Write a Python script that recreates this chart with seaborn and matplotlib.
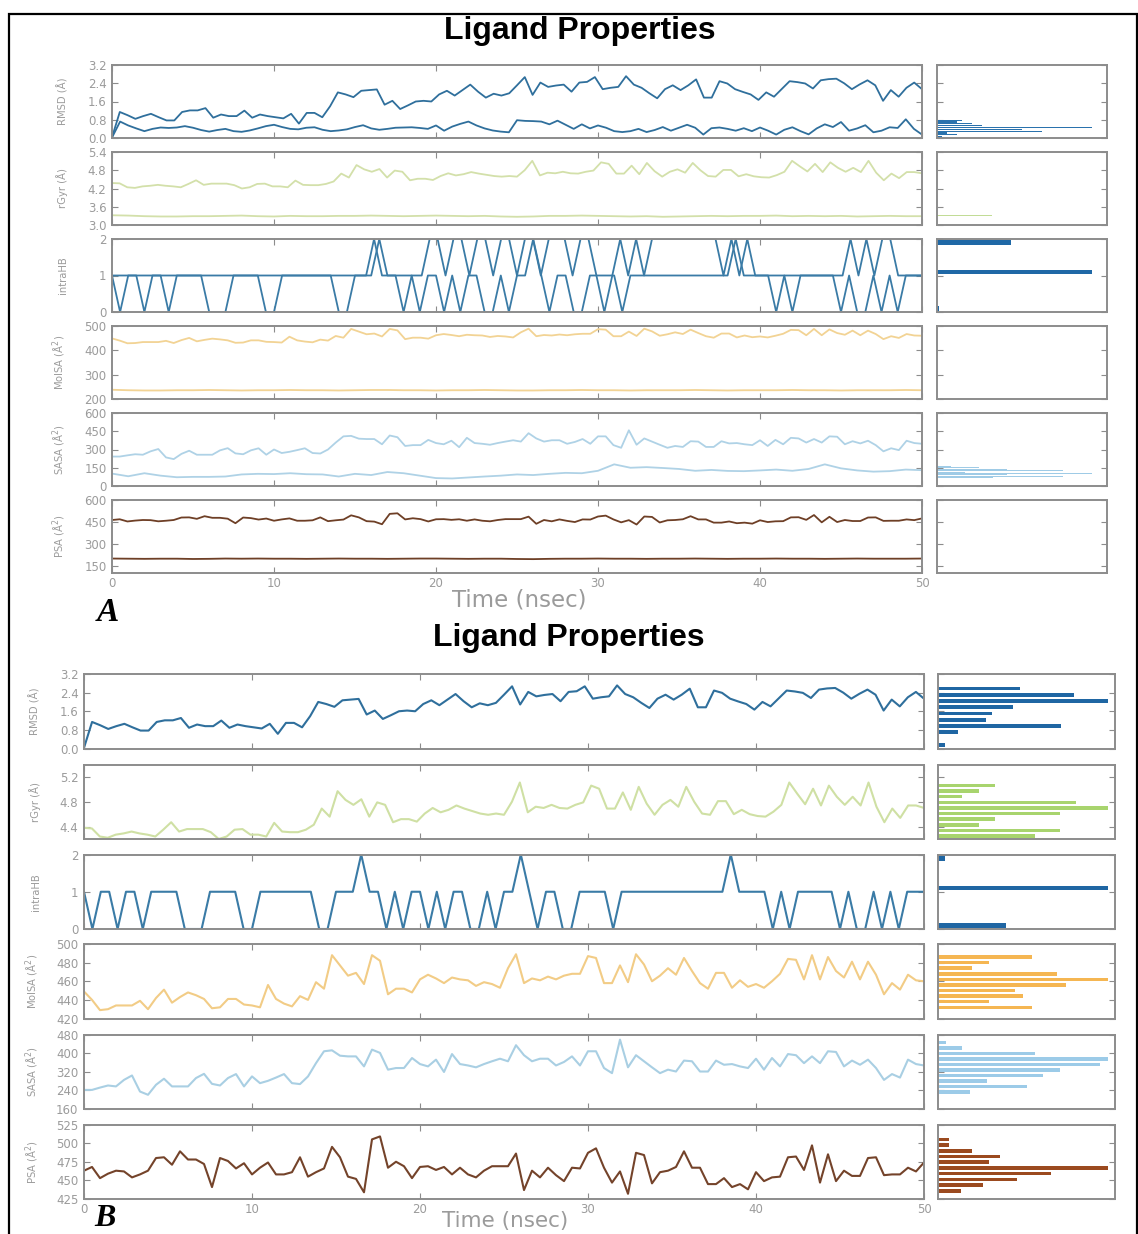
import numpy as np
import pandas as pd
import matplotlib
matplotlib.use("Agg")
import matplotlib.pyplot as plt
import seaborn as sns

# ---------------- data ----------------
rmsd_b = [0.03,1.14,1.0,0.84,0.96,1.06,0.91,0.77,0.77,1.14,1.21,1.21,1.31,0.89,1.03,0.96,0.96,1.2,0.89,1.03,
          0.96,0.91,0.86,1.06,0.63,1.1,1.1,0.91,1.39,2.0,1.91,1.79,2.07,2.1,2.13,1.46,1.63,1.27,1.43,1.6,
          1.63,1.6,1.91,2.07,1.86,2.1,2.34,2.03,1.77,1.94,1.86,1.96,2.31,2.67,1.89,2.43,2.24,2.3,2.34,2.03,
          2.43,2.46,2.67,2.14,2.2,2.24,2.71,2.34,2.2,1.96,1.74,2.14,2.31,2.1,2.31,2.57,1.77,1.77,2.49,2.39,
          2.14,2.02,1.91,1.67,2.0,1.81,2.15,2.49,2.45,2.39,2.17,2.53,2.58,2.6,2.4,2.14,2.35,2.53,2.31,1.63,
          2.1,1.81,2.2,2.43,2.14]
rgyr_b = [4.38,4.37,4.24,4.22,4.27,4.29,4.32,4.29,4.27,4.24,4.35,4.47,4.32,4.36,4.36,4.36,4.31,4.2,4.24,4.35,
          4.36,4.27,4.27,4.24,4.46,4.32,4.31,4.31,4.35,4.43,4.69,4.56,4.97,4.83,4.75,4.84,4.56,4.79,4.75,4.47,
          4.52,4.52,4.48,4.61,4.7,4.63,4.67,4.74,4.69,4.65,4.61,4.59,4.61,4.59,4.8,
          5.11,4.63,4.72,4.7,4.75,4.7,4.69,4.75,4.79,5.06,5.01,4.69,4.69,4.95,4.67,5.04,4.77,4.59,4.75,4.83,
          4.72,5.04,4.8,4.61,4.59,4.81,4.81,4.6,4.67,4.6,4.57,4.56,4.64,4.75,5.11,4.93,4.76,5.01,4.74,5.06,
          4.88,4.75,4.88,4.74,5.11,4.72,4.47,4.69,4.54,4.74,4.74,4.7]
intrahb_b = [1,0,1,1,0,1,1,0,1,1, 1,1,0,0,0,1,1,1,1,0, 0,1,1,1,1,1,1,1,0,0, 1,1,1,2,1,1,0,1,0,1,
             1,0,1,0,1,1,0,0,1,0, 1,1,2,1,0,1,1,0,0,1, 1,1,1,0,1,1,1,1,1,1, 1,1,1,1,1,1,1,2,1,1,
             1,1,0,1,0,1,1,1,1,1, 0,1,0,0,1,0,1,0,1,1, 1]
molsa_b = [449,440,429,430,434,434,434,439,430,442,451,437,443,448,445,441,431,432,441,441,
           435,434,432,456,441,436,433,444,440,459,452,488,477,466,469,457,488,482,446,452,
           452,448,462,467,463,458,464,462,461,455,459,457,453,474,
           489,458,463,461,465,462,466,468,468,487,485,458,458,477,459,489,478,460,466,474,
           467,485,471,458,452,469,469,453,461,454,457,453,460,468,484,483,462,488,462,486,
           471,464,481,462,481,467,446,458,451,467,461,460]
sasa_b = [242,242,252,261,257,285,304,235,221,264,290,257,257,257,293,311,268,261,293,310,
          257,300,271,281,295,310,271,267,300,357,408,412,389,386,386,343,415,401,329,336,
          336,379,353,343,372,319,396,353,347,339,353,365,376,365,
          434,391,365,376,376,347,362,386,347,408,408,336,314,458,339,391,365,339,314,329,
          321,368,365,321,321,368,350,353,343,336,376,329,379,343,396,391,357,386,357,408,
          405,343,368,350,372,336,285,310,295,372,353,347]
psa_b = [463,468,453,459,463,462,454,458,463,480,481,471,489,478,478,472,441,480,476,466,
         473,458,467,474,458,458,461,481,455,461,466,495,481,455,452,434,505,509,467,475,
         469,453,468,469,464,468,458,467,458,454,463,469,469,469,
         486,437,463,454,467,457,449,467,466,487,493,467,447,462,432,487,484,446,461,463,
         468,489,467,467,445,445,453,441,445,438,461,449,454,455,481,482,464,497,447,485,
         449,463,456,456,480,481,457,458,458,467,462,474]

# second (lower) series shown only in panel A
rmsd_a2 = [0.02,0.72,0.55,0.42,0.3,0.4,0.46,0.44,0.46,0.52,0.45,0.35,0.28,0.35,0.4,0.3,0.27,0.33,0.42,0.52,
           0.58,0.48,0.4,0.38,0.45,0.47,0.36,0.3,0.33,0.38,0.48,0.56,0.42,0.36,0.4,0.45,0.46,0.47,0.44,0.4,
           0.55,0.32,0.5,0.62,0.72,0.55,0.42,0.33,0.28,0.25,0.78,0.75,0.74,0.72,0.6,0.76,0.58,0.4,0.6,0.42,
           0.55,0.45,0.3,0.26,0.3,0.4,0.26,0.35,0.48,0.32,0.45,0.58,0.45,0.15,0.43,0.46,0.4,0.32,0.43,0.3,
           0.46,0.32,0.15,0.36,0.47,0.3,0.16,0.42,0.6,0.48,0.7,0.32,0.42,0.56,0.25,0.32,0.47,0.44,0.82,0.4,0.15]
rgyr_a2 = [3.32,3.31,3.29,3.28,3.28,3.29,3.29,3.3,3.31,3.29,3.28,3.3,3.29,3.29,3.3,3.3,3.31,3.3,3.29,3.3,
           3.31,3.3,3.29,3.3,3.28,3.27,3.28,3.3,3.3,3.31,3.3,3.29,3.28,3.29,3.27,3.28,3.29,3.3,3.29,3.3,
           3.3,3.31,3.29,3.3,3.29,3.3,3.28,3.29,3.3,3.29,3.29]
intrahb_a2 = [1]*33 + [2,1,1,1,1,1,1,
              2,2,1,2,2,1,2,2,1,2,2,1,2,2,1,2,2,2,1,2,2,1,0,1,
              2,1,2,1,2,2,2,2,2,2,2,2,2,1,2,1,2,1,1,1,
              1,1,1,1,1,1,1,1,1,2,1,2,1,2,2,1,1,1,1]
molsa_a2 = [238,236,235,235,236,236,237,236,235,236,236,237,236,236,235,236,237,237,236,236,
            235,236,236,237,236,235,235,236,236,237,236,236,235,236,236,236,237,236,235,236,
            236,236,237,236,236,235,236,236,236,237,236]
sasa_a2 = [102,80,105,85,72,75,75,78,95,100,98,105,97,95,78,100,90,115,105,85,
           65,62,70,78,85,95,90,100,108,105,125,178,150,155,148,140,125,132,124,122,
           128,135,125,140,178,145,128,118,122,135,130]
psa_a2 = [199,198,197,198,198,196,197,199,198,199,198,198,197,198,199,198,198,197,198,199,
          199,198,197,198,198,196,195,197,198,198,199,198,198,197,198,198,199,198,197,198,
          198,199,198,198,197,198,199,198,198,198,199]

row_labels = ["RMSD (Å)", "rGyr (Å)", "intraHB", "MolSA (Å$^2$)", "SASA (Å$^2$)", "PSA (Å$^2$)"]
x_ticks = [0, 10, 20, 30, 40, 50]

# y-axis settings per panel
yticks_a = [[0.0, 0.8, 1.6, 2.4, 3.2], [3.0, 3.6, 4.2, 4.8, 5.4], [0, 1, 2],
            [200, 300, 400, 500], [0, 150, 300, 450, 600], [150, 300, 450, 600]]
ylims_a = [(0, 3.2), (3.0, 5.4), (0, 2), (200, 500), (0, 600), (100, 600)]
fmt_a = ["%.1f", "%.1f", "%d", "%d", "%d", "%d"]
yticks_b = [[0.0, 0.8, 1.6, 2.4, 3.2], [4.4, 4.8, 5.2], [0, 1, 2],
            [420, 440, 460, 480, 500], [160, 240, 320, 400, 480], [425, 450, 475, 500, 525]]
ylims_b = [(0, 3.2), (4.2, 5.4), (0, 2), (420, 500), (160, 480), (425, 525)]
fmt_b = ["%.1f", "%.1f", "%d", "%d", "%d", "%d"]

line_col_a = ["#2f6f9c", "#d3e0aa", "#3a7ba6", "#f2d394", "#afd2e6", "#6e3f26"]
hist_col_a = ["#2a72ad", "#c2dc96", "#1f68a6", "#f2c67a", "#9fcbe6", "#9a5a30"]
line_col_b = ["#2f6f9c", "#cfe0a4", "#3a7ba6", "#f2cc86", "#a9cfe3", "#74432a"]
hist_col_b = ["#1f66a3", "#a8d46e", "#1f66a3", "#f5b652", "#9ccbe8", "#9b4a1f"]

series_b = [rmsd_b, rgyr_b, intrahb_b, molsa_b, sasa_b, psa_b]
series_a2 = [rmsd_a2, rgyr_a2, intrahb_a2, molsa_a2, sasa_a2, psa_a2]

# ---------------- drawing ----------------
sns.set_theme(style="white")
plt.rcParams["font.family"] = ["DejaVu Sans"]

W, H = 1138, 1234
fig = plt.figure(figsize=(W / 100, H / 100), dpi=100)
fig.patch.set_facecolor("white")

SPINE = "#8c8c8c"
TXT = "#9b9b9b"


def frame(x0, y0, w, h):
    return fig.add_axes([x0 / W, 1 - (y0 + h) / H, w / W, h / H])


def style(ax):
    for s in ax.spines.values():
        s.set_color(SPINE)
        s.set_linewidth(1.4)
    ax.tick_params(direction="in", length=4, width=0.8, color=SPINE,
                   labelcolor=TXT, labelsize=8.5, pad=4,
                   left=True, right=True, top=True, bottom=True)
    ax.set_facecolor("white")


def panel(tops, h, lx0, lx1, hx0, hx1, label_x, yticks, ylims, fmts, lcol, hcol,
          primary, secondary, hist_series, hist_margin, lw):
    for i in range(6):
        ax = frame(lx0, tops[i], lx1 - lx0, h)
        style(ax)
        for s in [primary[i]] + ([secondary[i]] if secondary else []):
            t = np.linspace(0, 50, len(s))
            sns.lineplot(x=t, y=s, ax=ax, color=lcol[i], lw=lw)
        ax.set_xlim(0, 50)
        ax.set_ylim(*ylims[i])
        ax.set_yticks(yticks[i])
        ax.set_yticklabels([fmts[i] % v for v in yticks[i]])
        ax.set_xticks(x_ticks)
        ax.set_xlabel("")
        ax.set_ylabel(row_labels[i], color=TXT, fontsize=8, fontstretch="condensed")
        ax.yaxis.set_label_coords((label_x - lx0) / (lx1 - lx0), 0.5)
        if i < 5:
            ax.set_xticklabels([])
        else:
            ax.set_xticklabels([str(v) for v in x_ticks])
            ax.tick_params(axis="x", pad=3)
        # histogram
        hx = frame(hx0, tops[i], hx1 - hx0, h)
        style(hx)
        sns.histplot(y=hist_series[i], bins=10, shrink=0.62, color=hcol[i],
                     edgecolor="none", linewidth=0, alpha=1, ax=hx)
        hx.set_ylim(*ylims[i])
        hx.set_yticks(yticks[i])
        hx.set_yticklabels([])
        hx.set_xticks([])
        hx.set_xlabel("")
        hx.set_ylabel("")
        mx = max(p.get_width() for p in hx.patches)
        hx.set_xlim(0, mx * hist_margin)


# Panel A
tops_a = [65, 152, 239, 326, 413, 500]
panel(tops_a, 73, 112, 922, 937, 1107, 68, yticks_a, ylims_a, fmt_a, line_col_a, hist_col_a,
      series_b, series_a2, series_a2, 1.1, 1.3)
# Panel B
tops_b = [674, 764.5, 854.5, 944, 1034.5, 1124.5]
panel(tops_b, 74.5, 84, 924, 938, 1115, 41, yticks_b, ylims_b, fmt_b, line_col_b, hist_col_b,
      series_b, None, series_b, 1.04, 1.5)

# Titles and labels
fig.text(580 / W, 1 - 31 / H, "Ligand Properties", ha="center", va="center",
         fontsize=23, fontweight="bold", family="Liberation Sans", color="black")
fig.text(569 / W, 1 - 638 / H, "Ligand Properties", ha="center", va="center",
         fontsize=23, fontweight="bold", family="Liberation Sans", color="black")
fig.text(519 / W, 1 - 600 / H, "Time (nsec)", ha="center", va="center",
         fontsize=16.5, color=TXT)
fig.text(505 / W, 1 - 1221 / H, "Time (nsec)", ha="center", va="center",
         fontsize=15.5, color=TXT)
fig.text(108 / W, 1 - 612 / H, "A", ha="center", va="center", fontsize=24,
         fontweight="bold", fontstyle="italic", family="Liberation Serif", color="black")
fig.text(105 / W, 1 - 1218 / H, "B", ha="center", va="center", fontsize=23,
         fontweight="bold", fontstyle="italic", family="Liberation Serif", color="black")

# outer border
border = plt.Rectangle((9 / W, -0.01), (1136.5 - 9) / W, 1 - 14 / H + 0.01,
                       transform=fig.transFigure, fill=False, edgecolor="black", lw=1.6)
fig.add_artist(border)

fig.savefig("out.png", dpi=100, facecolor="white")
